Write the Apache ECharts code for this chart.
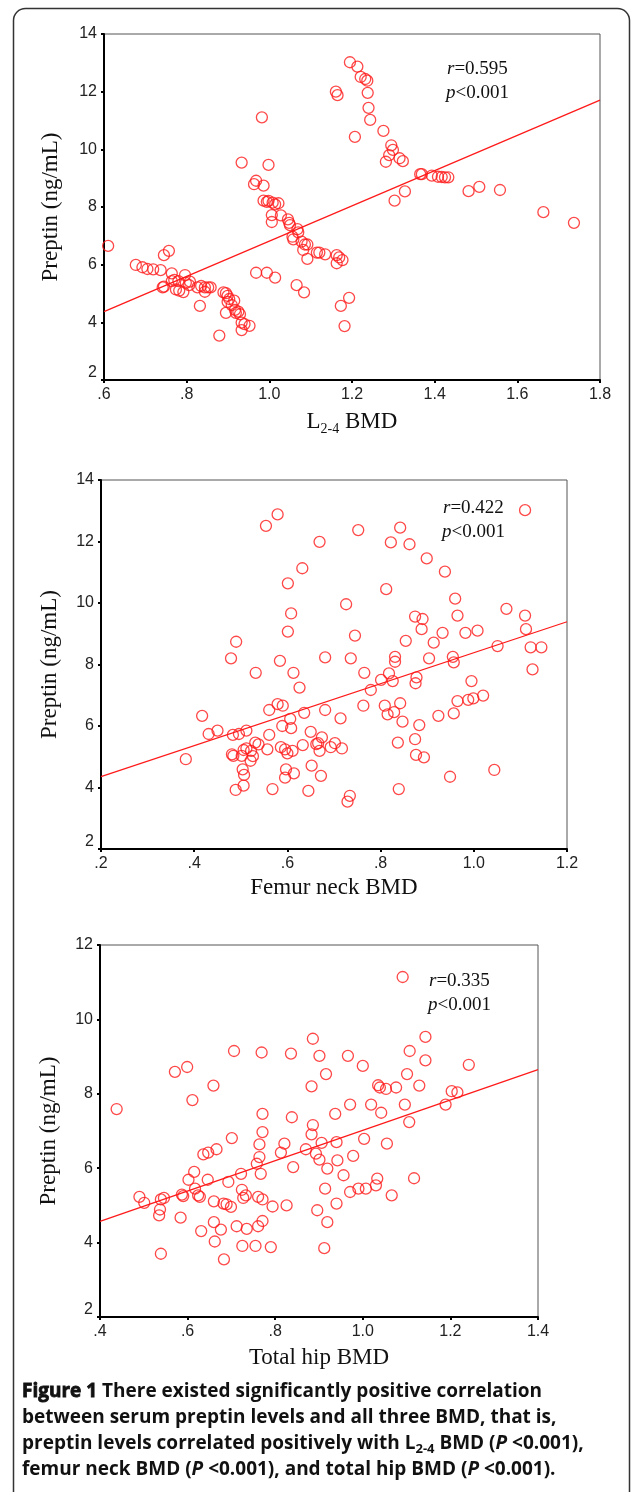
<!DOCTYPE html>
<html><head><meta charset="utf-8">
<script src="https://cdn.jsdelivr.net/npm/echarts@6/dist/echarts.min.js"></script>
<style>html,body{margin:0;padding:0;background:#fff}#c{width:633px;height:1492px}</style>
</head><body><div id="c"></div>
<script>
// ---------- data ----------
const l24Points = [
 [1.195,13.02],[1.213,12.87],[1.221,12.51],[1.232,12.44],[1.237,12.38],[1.161,12.00],[1.165,11.88],[1.238,11.96],[1.240,11.44],[0.982,11.11],[1.244,11.02],[1.207,10.43],[0.933,9.54],[0.998,9.46],[0.968,8.91],[0.963,8.79],[0.986,8.74],[0.986,8.22],[0.998,8.21],[1.008,8.15],[1.014,8.09],[1.022,8.13],[0.994,8.18],[1.006,7.72],[1.006,7.48],[1.028,7.71],[1.045,7.57],[1.048,7.45],[1.050,7.37],[1.068,7.23],[1.070,7.12],[1.056,6.97],[1.058,6.88],[1.078,6.80],[1.086,6.70],[1.092,6.70],[1.082,6.51],[1.115,6.42],[1.121,6.42],[1.135,6.36],[1.092,6.20],[1.163,6.33],[1.169,6.25],[1.177,6.16],[1.163,6.05],[0.968,5.72],[0.994,5.72],[1.014,5.55],[1.066,5.29],[1.084,5.04],[1.173,4.57],[1.193,4.85],[1.182,3.87],
 [1.276,10.64],[1.295,10.14],[1.299,9.98],[1.290,9.80],[1.282,9.57],[1.315,9.69],[1.323,9.59],[1.303,8.22],[1.328,8.54],[1.365,9.14],[1.369,9.14],[1.393,9.09],[1.408,9.05],[1.417,9.04],[1.425,9.03],[1.433,9.03],[1.482,8.55],[1.508,8.70],[1.558,8.59],[1.663,7.82],[1.737,7.45],
 [0.610,6.65],[0.677,5.99],[0.693,5.91],[0.705,5.85],[0.719,5.84],[0.737,5.81],[0.745,6.33],[0.757,6.48],[0.764,5.70],[0.742,5.21],[0.745,5.24],[0.764,5.43],[0.770,5.47],[0.780,5.43],[0.774,5.14],[0.782,5.10],[0.792,5.05],[0.796,5.64],[0.798,5.37],[0.806,5.29],[0.808,5.41],[0.826,5.21],[0.835,5.26],[0.844,5.21],[0.844,5.06],[0.852,5.21],[0.858,5.21],[0.832,4.57],[0.889,5.04],[0.895,5.01],[0.899,4.92],[0.903,4.81],[0.899,4.71],[0.915,4.75],[0.909,4.60],[0.917,4.43],[0.925,4.37],[0.919,4.33],[0.895,4.33],[0.929,4.28],[0.933,3.99],[0.940,3.94],[0.952,3.88],[0.933,3.73],[0.879,3.54]
];
const femurPoints = [
 [0.579,12.88],[0.554,12.51],[0.669,11.99],[0.752,12.37],[0.632,11.13],[0.601,10.64],[0.726,9.96],[0.608,9.66],[0.601,9.07],[0.745,8.94],[0.490,8.74],[0.479,8.20],[0.584,8.12],[0.681,8.23],[0.736,8.20],
 [1.110,13.02],[0.842,12.45],[0.822,11.97],[0.862,11.91],[0.899,11.45],[0.938,11.02],[0.812,10.45],[0.960,10.14],[0.874,9.56],[0.890,9.48],[0.965,9.59],[1.070,9.81],[1.110,9.59],[1.112,9.15],[0.888,9.15],[0.933,9.03],[0.982,9.03],[1.008,9.10],[0.854,8.77],[0.914,8.71],[1.051,8.60],[1.122,8.56],[1.145,8.56],[0.831,8.25],[0.831,8.09],[0.904,8.20],[0.955,8.25],[0.957,8.07],
 [1.126,7.84],[0.765,7.73],[0.818,7.71],[0.801,7.50],[0.826,7.46],[0.877,7.58],[0.875,7.39],[0.995,7.46],[0.779,7.17],[0.763,6.66],[0.809,6.66],[0.815,6.38],[0.829,6.45],[0.842,6.74],[0.847,6.14],[0.883,6.03],[0.924,6.33],[0.957,6.41],[0.965,6.81],[0.988,6.85],[0.999,6.90],[1.020,6.99],[0.636,6.43],[0.681,6.52],[0.714,6.25],[0.650,5.81],[0.674,5.63],[0.633,5.38],[0.662,5.41],[0.666,5.44],[0.669,5.19],[0.693,5.31],[0.702,5.44],[0.717,5.27],[0.837,5.46],[0.874,5.57],[0.876,5.06],[0.893,4.98],[0.652,4.71],[0.672,4.38],[0.645,3.89],[0.734,3.73],[0.729,3.54],[0.839,3.95],[0.949,4.35],[1.044,4.57],
 [0.532,7.73],[0.613,7.73],[0.626,7.25],[0.579,6.71],[0.590,6.66],[0.561,6.52],[0.417,6.33],[0.606,6.23],[0.589,6.00],[0.608,5.93],[0.431,5.74],[0.450,5.85],[0.483,5.71],[0.496,5.74],[0.512,5.85],[0.561,5.71],[0.531,5.46],[0.538,5.40],[0.512,5.27],[0.506,5.22],[0.522,5.19],[0.481,5.08],[0.484,5.03],[0.502,5.03],[0.526,5.02],[0.557,5.24],[0.586,5.31],[0.595,5.24],[0.600,5.11],[0.611,5.19],[0.382,4.92],[0.521,4.87],[0.504,4.59],[0.507,4.41],[0.597,4.59],[0.595,4.32],[0.614,4.46],[0.506,4.06],[0.489,3.92],[0.568,3.95]
];
const hipPoints = [
 [0.438,7.59],[0.571,8.59],[0.599,8.72],[0.611,7.83],[0.659,8.22],[0.706,9.15],[0.769,9.11],[0.836,9.08],[0.886,9.48],[0.901,9.02],[0.966,9.02],[1.000,8.75],[0.916,8.53],[0.883,8.20],[0.771,7.46],[0.838,7.37],[0.886,7.16],[0.883,6.91],[0.771,6.97],[0.937,7.46],[0.971,7.71],[1.019,7.71],[0.701,6.81],[0.764,6.64],[0.821,6.66],[0.906,6.68],[0.940,6.70],[1.003,6.79],
 [1.091,11.14],[1.143,9.53],[1.107,9.15],[1.143,8.90],[1.242,8.78],[1.101,8.53],[1.035,8.23],[1.039,8.17],[1.053,8.13],[1.076,8.17],[1.129,8.22],[1.203,8.07],[1.216,8.04],[1.096,7.71],[1.189,7.71],[1.042,7.49],[1.106,7.24],[1.055,6.66],
 [0.666,6.51],[0.636,6.37],[0.647,6.42],[0.813,6.42],[0.870,6.51],[0.893,6.39],[0.901,6.23],[0.764,6.30],[0.758,6.12],[0.978,6.33],[0.942,6.21],[0.841,6.03],[0.919,5.99],[0.615,5.90],[0.722,5.85],[0.767,5.85],[0.956,5.81],[0.602,5.69],[0.646,5.69],[0.693,5.63],[1.033,5.72],[1.030,5.54],[0.914,5.45],[0.971,5.36],[0.990,5.45],[1.007,5.45],[0.617,5.45],[0.587,5.29],[0.590,5.25],[0.624,5.27],[0.628,5.23],[0.724,5.42],[0.733,5.27],[0.727,5.20],[0.761,5.23],[0.771,5.16],[0.490,5.23],[0.501,5.07],[0.539,5.16],[0.546,5.20],[0.660,5.11],[0.682,5.05],[0.689,5.03],[0.699,4.96],[0.794,4.97],[0.826,5.00],[0.940,5.05],[1.066,5.27],[1.117,5.73],[0.537,4.89],[0.535,4.73],[0.584,4.67],[0.896,4.87],[0.660,4.55],[0.771,4.58],[0.919,4.55],[0.712,4.44],[0.735,4.37],[0.761,4.44],[0.676,4.35],[0.631,4.31],[0.662,4.03],[0.725,3.91],[0.755,3.91],[0.790,3.88],[0.912,3.85],[0.539,3.70],[0.683,3.55]
];
const l24Fit = [[0.6,4.37],[1.8,11.71]];
const femurFit = [[0.2,4.35],[1.2,9.39]];
const hipFit = [[0.4,4.57],[1.4,8.65]];

const xTicks1 = ['.6','.8','1.0','1.2','1.4','1.6','1.8'];
const xTicks2 = ['.2','.4','.6','.8','1.0','1.2'];
const xTicks3 = ['.4','.6','.8','1.0','1.2','1.4'];
const yTicks12 = ['2','4','6','8','10','12','14'];
const yTicks3 = ['2','4','6','8','10','12'];

const stats = [
  {r:'0.595', p:'0.001'},
  {r:'0.422', p:'0.001'},
  {r:'0.335', p:'0.001'}
];
const yTitle = 'Preptin (ng/mL)';
const xTitles = ['{n|L}{s|2-4}{n| BMD}', 'Femur neck BMD', 'Total hip BMD'];

// ---------- chart ----------
const RED = '#ff1a1a';
const SERIF = '"Liberation Serif", "Times New Roman", serif';
const SANS = '"Liberation Sans", Arial, sans-serif';
const TITLE_SIZE = 23;

const grids = [
  {left:104, top:34, width:496, height:346},
  {left:101, top:480, width:466, height:369},
  {left:100, top:945, width:438, height:372}
];
const xDefs = [
  {min:0.6, max:1.8, ticks:xTicks1},
  {min:0.2, max:1.2, ticks:xTicks2},
  {min:0.4, max:1.4, ticks:xTicks3}
];
const yDefs = [
  {min:2, max:14, ticks:yTicks12},
  {min:2, max:14, ticks:yTicks12},
  {min:2, max:12, ticks:yTicks3}
];
const xNameGap = [27, 27, 29];
const yNameGap = [42, 40, 40];

function xAxis(i){
  const d = xDefs[i];
  return {
    type:'value', gridIndex:i, min:d.min, max:d.max, interval:0.2,
    axisLine:{show:true, lineStyle:{color:'#000', width:2}},
    axisTick:{show:true, length:3, lineStyle:{color:'#000', width:2}},
    splitLine:{show:false},
    axisLabel:{
      color:'#222', fontFamily:SANS, fontSize:16, margin:7,
      formatter:v => d.ticks[Math.round((v - d.min)/0.2)]
    },
    name: xTitles[i], nameLocation:'middle', nameGap: xNameGap[i],
    nameTextStyle:{
      fontFamily:SERIF, fontSize:TITLE_SIZE, color:'#111',
      rich:{
        n:{fontFamily:SERIF, fontSize:TITLE_SIZE, color:'#111'},
        s:{fontFamily:SERIF, fontSize:14, color:'#111', padding:[15,0,0,0]}
      }
    }
  };
}
function yAxis(i){
  const d = yDefs[i];
  return {
    type:'value', gridIndex:i, min:d.min, max:d.max, interval:2,
    axisLine:{show:true, lineStyle:{color:'#000', width:2}},
    axisTick:{show:true, length:3, lineStyle:{color:'#000', width:2}},
    splitLine:{show:false},
    axisLabel:{
      color:'#222', fontFamily:SANS, fontSize:16, margin:7,
      formatter:v => {
        const t = d.ticks[Math.round((v - d.min)/2)];
        return v === d.min ? '{lo|' + t + '}' : t;
      },
      rich:{lo:{fontFamily:SANS, fontSize:16, color:'#222', padding:[0,0,14,0]}}
    },
    name: yTitle, nameLocation:'middle', nameGap: yNameGap[i],
    nameTextStyle:{fontFamily:SERIF, fontSize:TITLE_SIZE, color:'#111'}
  };
}

const series = [];
[l24Points, femurPoints, hipPoints].forEach((pts,i)=>{
  series.push({
    type:'scatter', xAxisIndex:i, yAxisIndex:i, data:pts,
    symbol:'circle', symbolSize:11,
    itemStyle:{color:'rgba(0,0,0,0)', borderColor:RED, borderWidth:1.3},
    emphasis:{disabled:true}, z:3
  });
});
[l24Fit, femurFit, hipFit].forEach((f,i)=>{
  series.push({
    type:'line', xAxisIndex:i, yAxisIndex:i, data:f, showSymbol:false, symbol:'none',
    lineStyle:{color:RED, width:1.3}, emphasis:{disabled:true}, z:2, silent:true
  });
});

const annPos = [[447,69],[443,508],[429,981]];
const graphics = [
  {type:'rect', shape:{x:13.5, y:8.5, width:616, height:1530, r:12},
   style:{fill:'none', stroke:'#333', lineWidth:1.5}, z:-1, silent:true}
];
stats.forEach((s,i)=>{
  const [x,y] = annPos[i];
  const rich = {
    i:{fontFamily:SERIF, fontStyle:'italic', fontSize:19, fill:'#111'},
    n:{fontFamily:SERIF, fontSize:19, fill:'#111'}
  };
  graphics.push({type:'text', x:x, y:y, silent:true,
    style:{text:'{i|r}{n|=' + s.r + '}', rich:rich, verticalAlign:'middle', align:'left'}});
  graphics.push({type:'text', x:x-1, y:y+24, silent:true,
    style:{text:'{i|p}{n|<' + s.p + '}', rich:rich, verticalAlign:'middle', align:'left'}});
});

const CAP = '"Open Sans", "Noto Sans", sans-serif';
const CAP_SIZE = 19;
const capRich = {
  b:{fontFamily:CAP, fontWeight:700, fontSize:CAP_SIZE, fill:'#111', stroke:'#111', lineWidth:0.8},
  n:{fontFamily:CAP, fontWeight:700, fontSize:CAP_SIZE, fill:'#111'},
  it:{fontFamily:CAP, fontWeight:700, fontStyle:'italic', fontSize:CAP_SIZE, fill:'#111'},
  s:{fontFamily:CAP, fontWeight:700, fontSize:13, fill:'#111', padding:[10,0,0,0]}
};
const captionLines = [
  '{b|Figure 1}{n| There existed significantly positive correlation}',
  '{n|between serum preptin levels and all three BMD, that is,}',
  '{n|preptin levels correlated positively with L}{s|2-4}{n| BMD (}{it|P}{n| <0.001),}',
  '{n|femur neck BMD (}{it|P}{n| <0.001), and total hip BMD (}{it|P}{n| <0.001).}'
];
captionLines.forEach((t,k)=>{
  graphics.push({type:'text', x:22, y:1392 + k*26, silent:true,
    style:{text:t, rich:capRich, verticalAlign:'middle', align:'left'}});
});

const chart = echarts.init(document.getElementById('c'), null, {renderer:'canvas'});
chart.setOption({
  animation:false,
  backgroundColor:'#fff',
  grid: grids.map(g => Object.assign({show:true, borderColor:'#555', borderWidth:1, containLabel:false}, g)),
  xAxis:[0,1,2].map(xAxis),
  yAxis:[0,1,2].map(yAxis),
  series: series,
  graphic: graphics
});
</script></body></html>
